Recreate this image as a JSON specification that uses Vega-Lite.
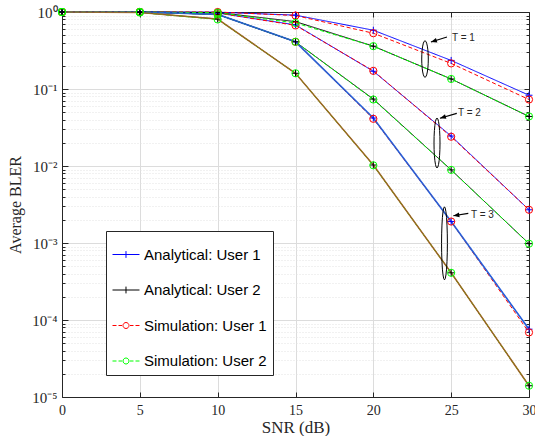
{
  "$schema": "https://vega.github.io/schema/vega-lite/v6.json",
  "width": 467,
  "height": 385,
  "autosize": "none",
  "padding": {"left": 62, "top": 12, "right": 6, "bottom": 39},
  "background": "white",
  "config": {"view": {"stroke": null}},
  "datasets": {
    "curves": [
      {"series": "Analytical: User 1", "T": 1, "x": 0, "v": 1}, {"series": "Analytical: User 1", "T": 1, "x": 5, "v": 1}, {"series": "Analytical: User 1", "T": 1, "x": 10, "v": 0.995}, {"series": "Analytical: User 1", "T": 1, "x": 15, "v": 0.91}, {"series": "Analytical: User 1", "T": 1, "x": 20, "v": 0.58}, {"series": "Analytical: User 1", "T": 1, "x": 25, "v": 0.235}, {"series": "Analytical: User 1", "T": 1, "x": 30, "v": 0.083},
      {"series": "Analytical: User 1", "T": 2, "x": 0, "v": 1}, {"series": "Analytical: User 1", "T": 2, "x": 5, "v": 1}, {"series": "Analytical: User 1", "T": 2, "x": 10, "v": 0.97}, {"series": "Analytical: User 1", "T": 2, "x": 15, "v": 0.68}, {"series": "Analytical: User 1", "T": 2, "x": 20, "v": 0.17}, {"series": "Analytical: User 1", "T": 2, "x": 25, "v": 0.0245}, {"series": "Analytical: User 1", "T": 2, "x": 30, "v": 0.0027},
      {"series": "Analytical: User 1", "T": 3, "x": 0, "v": 1}, {"series": "Analytical: User 1", "T": 3, "x": 5, "v": 1}, {"series": "Analytical: User 1", "T": 3, "x": 10, "v": 0.93}, {"series": "Analytical: User 1", "T": 3, "x": 15, "v": 0.41}, {"series": "Analytical: User 1", "T": 3, "x": 20, "v": 0.042}, {"series": "Analytical: User 1", "T": 3, "x": 25, "v": 0.0019}, {"series": "Analytical: User 1", "T": 3, "x": 30, "v": 0.000076},
      {"series": "Analytical: User 2", "T": 1, "x": 0, "v": 1}, {"series": "Analytical: User 2", "T": 1, "x": 5, "v": 1}, {"series": "Analytical: User 2", "T": 1, "x": 10, "v": 0.985}, {"series": "Analytical: User 2", "T": 1, "x": 15, "v": 0.75}, {"series": "Analytical: User 2", "T": 1, "x": 20, "v": 0.36}, {"series": "Analytical: User 2", "T": 1, "x": 25, "v": 0.135}, {"series": "Analytical: User 2", "T": 1, "x": 30, "v": 0.044},
      {"series": "Analytical: User 2", "T": 2, "x": 0, "v": 1}, {"series": "Analytical: User 2", "T": 2, "x": 5, "v": 1}, {"series": "Analytical: User 2", "T": 2, "x": 10, "v": 0.93}, {"series": "Analytical: User 2", "T": 2, "x": 15, "v": 0.41}, {"series": "Analytical: User 2", "T": 2, "x": 20, "v": 0.074}, {"series": "Analytical: User 2", "T": 2, "x": 25, "v": 0.0089}, {"series": "Analytical: User 2", "T": 2, "x": 30, "v": 0.00098},
      {"series": "Analytical: User 2", "T": 3, "x": 0, "v": 1}, {"series": "Analytical: User 2", "T": 3, "x": 5, "v": 0.985}, {"series": "Analytical: User 2", "T": 3, "x": 10, "v": 0.81}, {"series": "Analytical: User 2", "T": 3, "x": 15, "v": 0.16}, {"series": "Analytical: User 2", "T": 3, "x": 20, "v": 0.0103}, {"series": "Analytical: User 2", "T": 3, "x": 25, "v": 0.00041}, {"series": "Analytical: User 2", "T": 3, "x": 30, "v": 0.000014},
      {"series": "Simulation: User 1", "T": 1, "x": 0, "v": 1}, {"series": "Simulation: User 1", "T": 1, "x": 5, "v": 1}, {"series": "Simulation: User 1", "T": 1, "x": 10, "v": 1}, {"series": "Simulation: User 1", "T": 1, "x": 15, "v": 0.9}, {"series": "Simulation: User 1", "T": 1, "x": 20, "v": 0.53}, {"series": "Simulation: User 1", "T": 1, "x": 25, "v": 0.215}, {"series": "Simulation: User 1", "T": 1, "x": 30, "v": 0.073},
      {"series": "Simulation: User 1", "T": 2, "x": 0, "v": 1}, {"series": "Simulation: User 1", "T": 2, "x": 5, "v": 1}, {"series": "Simulation: User 1", "T": 2, "x": 10, "v": 0.97}, {"series": "Simulation: User 1", "T": 2, "x": 15, "v": 0.67}, {"series": "Simulation: User 1", "T": 2, "x": 20, "v": 0.172}, {"series": "Simulation: User 1", "T": 2, "x": 25, "v": 0.024}, {"series": "Simulation: User 1", "T": 2, "x": 30, "v": 0.0027},
      {"series": "Simulation: User 1", "T": 3, "x": 0, "v": 1}, {"series": "Simulation: User 1", "T": 3, "x": 5, "v": 1}, {"series": "Simulation: User 1", "T": 3, "x": 10, "v": 0.93}, {"series": "Simulation: User 1", "T": 3, "x": 15, "v": 0.41}, {"series": "Simulation: User 1", "T": 3, "x": 20, "v": 0.041}, {"series": "Simulation: User 1", "T": 3, "x": 25, "v": 0.0019}, {"series": "Simulation: User 1", "T": 3, "x": 30, "v": 0.000069},
      {"series": "Simulation: User 2", "T": 1, "x": 0, "v": 1}, {"series": "Simulation: User 2", "T": 1, "x": 5, "v": 1}, {"series": "Simulation: User 2", "T": 1, "x": 10, "v": 0.98}, {"series": "Simulation: User 2", "T": 1, "x": 15, "v": 0.72}, {"series": "Simulation: User 2", "T": 1, "x": 20, "v": 0.36}, {"series": "Simulation: User 2", "T": 1, "x": 25, "v": 0.135}, {"series": "Simulation: User 2", "T": 1, "x": 30, "v": 0.044},
      {"series": "Simulation: User 2", "T": 2, "x": 0, "v": 1}, {"series": "Simulation: User 2", "T": 2, "x": 5, "v": 1}, {"series": "Simulation: User 2", "T": 2, "x": 10, "v": 0.93}, {"series": "Simulation: User 2", "T": 2, "x": 15, "v": 0.41}, {"series": "Simulation: User 2", "T": 2, "x": 20, "v": 0.073}, {"series": "Simulation: User 2", "T": 2, "x": 25, "v": 0.0089}, {"series": "Simulation: User 2", "T": 2, "x": 30, "v": 0.00098},
      {"series": "Simulation: User 2", "T": 3, "x": 0, "v": 1}, {"series": "Simulation: User 2", "T": 3, "x": 5, "v": 0.985}, {"series": "Simulation: User 2", "T": 3, "x": 10, "v": 0.8}, {"series": "Simulation: User 2", "T": 3, "x": 15, "v": 0.16}, {"series": "Simulation: User 2", "T": 3, "x": 20, "v": 0.0102}, {"series": "Simulation: User 2", "T": 3, "x": 25, "v": 0.00041}, {"series": "Simulation: User 2", "T": 3, "x": 30, "v": 0.000014}
    ],
    "ellipses": [
      {"T": 1, "x": 23.32, "v": 0.245},
      {"T": 2, "x": 24.09, "v": 0.0199},
      {"T": 3, "x": 24.57, "v": 0.00099}
    ],
    "arrows": [
      {"T": 1, "x": 24.73, "v": 0.473, "x2": 23.7, "v2": 0.408},
      {"T": 2, "x": 25.36, "v": 0.0483, "x2": 24.28, "v2": 0.0417},
      {"T": 3, "x": 26.1, "v": 0.00243, "x2": 25.14, "v2": 0.00226}
    ],
    "labels": [
      {"x": 25.05, "v": 0.453, "text": "T = 1"},
      {"x": 25.44, "v": 0.0488, "text": "T = 2"},
      {"x": 26.27, "v": 0.00231, "text": "T = 3"}
    ]
  },
  "layer": [
    {
      "data": {"name": "curves"},
      "mark": {"type": "line", "strokeWidth": 1},
      "encoding": {
        "x": {
          "field": "x", "type": "quantitative",
          "scale": {"domain": [0, 30], "nice": false},
          "axis": {
            "orient": "bottom", "values": [0, 5, 10, 15, 20, 25, 30],
            "grid": true, "gridColor": "#dcdcdc", "gridWidth": 1,
            "ticks": true, "tickSize": -5, "tickColor": "#262626", "tickWidth": 1,
            "domain": true, "domainColor": "#262626", "domainWidth": 1,
            "labelFont": "Liberation Serif", "labelFontSize": 14, "labelColor": "#262626",
            "labelPadding": 11, "labelFlush": false,
            "title": "SNR (dB)", "titleFont": "Liberation Serif", "titleFontSize": 17,
            "titleFontWeight": "normal", "titleColor": "#262626", "titlePadding": 2
          }
        },
        "y": {
          "field": "v", "type": "quantitative",
          "scale": {"type": "log", "domain": [0.00001, 1], "nice": false},
          "axis": {
            "orient": "left",
            "values": [0.00001, 0.00002, 0.00003, 0.00004, 0.00005, 0.00006, 0.00007, 0.00008, 0.00009, 0.0001, 0.0002, 0.0003, 0.0004, 0.0005, 0.0006, 0.0007, 0.0008, 0.0009, 0.001, 0.002, 0.003, 0.004, 0.005, 0.006, 0.007, 0.008, 0.009, 0.01, 0.02, 0.03, 0.04, 0.05, 0.06, 0.07, 0.08, 0.09, 0.1, 0.2, 0.3, 0.4, 0.5, 0.6, 0.7, 0.8, 0.9, 1],
            "labelExpr": "datum.value == 1 ? '10⁰' : datum.value == 0.1 ? '10⁻¹' : datum.value == 0.01 ? '10⁻²' : datum.value == 0.001 ? '10⁻³' : datum.value == 0.0001 ? '10⁻⁴' : datum.value == 0.00001 ? '10⁻⁵' : ''",
            "grid": true,
            "gridColor": {"condition": {"test": "indexof([1,0.1,0.01,0.001,0.0001,0.00001], datum.value) >= 0", "value": "#dcdcdc"}, "value": "#e2e2e2"},
            "gridDash": {"condition": {"test": "indexof([1,0.1,0.01,0.001,0.0001,0.00001], datum.value) >= 0", "value": []}, "value": [1, 2]},
            "ticks": true,
            "tickSize": {"condition": {"test": "indexof([1,0.1,0.01,0.001,0.0001,0.00001], datum.value) >= 0", "value": -6}, "value": -3},
            "tickColor": "#262626", "tickWidth": 1,
            "domain": true, "domainColor": "#262626", "domainWidth": 1,
            "labelFont": "Liberation Serif", "labelFontSize": 15, "labelColor": "#262626",
            "labelPadding": 11, "labelFlush": false, "labelOverlap": false,
            "title": "Average BLER", "titleFont": "Liberation Serif", "titleFontSize": 16,
            "titleFontWeight": "normal", "titleColor": "#262626", "titlePadding": 8
          }
        },
        "color": {
          "field": "series", "type": "nominal",
          "scale": {"domain": ["Analytical: User 1", "Analytical: User 2", "Simulation: User 1", "Simulation: User 2"], "range": ["#0000ff", "#000000", "#ff0000", "#00ff00"]},
          "legend": null
        },
        "strokeDash": {
          "field": "series", "type": "nominal",
          "scale": {"domain": ["Analytical: User 1", "Analytical: User 2", "Simulation: User 1", "Simulation: User 2"], "range": [[1, 0], [1, 0], [4, 2.5], [4, 2.5]]},
          "legend": null
        },
        "detail": {"field": "T", "type": "nominal"}
      }
    },
    {
      "data": {"name": "curves"},
      "transform": [{"filter": "datum.T == 3 && datum.series == 'Analytical: User 1'"}],
      "mark": {"type": "line", "strokeWidth": 1.7, "color": "#2462d6", "opacity": 0.9},
      "encoding": {
        "x": {"field": "x", "type": "quantitative", "scale": {"domain": [0, 30], "nice": false}, "axis": null},
        "y": {"field": "v", "type": "quantitative", "scale": {"type": "log", "domain": [0.00001, 1], "nice": false}, "axis": null}
      }
    },
    {
      "data": {"name": "curves"},
      "transform": [{"filter": "datum.T == 3 && datum.series == 'Analytical: User 2'"}],
      "mark": {"type": "line", "strokeWidth": 1.6, "color": "#a8651f", "opacity": 0.85},
      "encoding": {
        "x": {"field": "x", "type": "quantitative", "scale": {"domain": [0, 30], "nice": false}, "axis": null},
        "y": {"field": "v", "type": "quantitative", "scale": {"type": "log", "domain": [0.00001, 1], "nice": false}, "axis": null}
      }
    },
    {
      "data": {"name": "curves"},
      "transform": [{"filter": "indexof(datum.series, 'Analytical') == 0"}],
      "mark": {"type": "point", "shape": "M-1,0L1,0M0,-1L0,1", "size": 49, "filled": false, "strokeWidth": 1, "opacity": 1},
      "encoding": {
        "x": {
          "field": "x", "type": "quantitative",
          "scale": {"domain": [0, 30], "nice": false},
          "axis": {
            "orient": "top", "values": [0, 5, 10, 15, 20, 25, 30],
            "labels": false, "grid": false, "ticks": true, "tickSize": -5,
            "tickColor": "#262626", "domain": true, "domainColor": "#262626", "title": null
          }
        },
        "y": {
          "field": "v", "type": "quantitative",
          "scale": {"type": "log", "domain": [0.00001, 1], "nice": false},
          "axis": {
            "orient": "right",
            "values": [0.00001, 0.00002, 0.00003, 0.00004, 0.00005, 0.00006, 0.00007, 0.00008, 0.00009, 0.0001, 0.0002, 0.0003, 0.0004, 0.0005, 0.0006, 0.0007, 0.0008, 0.0009, 0.001, 0.002, 0.003, 0.004, 0.005, 0.006, 0.007, 0.008, 0.009, 0.01, 0.02, 0.03, 0.04, 0.05, 0.06, 0.07, 0.08, 0.09, 0.1, 0.2, 0.3, 0.4, 0.5, 0.6, 0.7, 0.8, 0.9, 1],
            "labels": false, "grid": false, "ticks": true,
            "tickSize": {"condition": {"test": "indexof([1,0.1,0.01,0.001,0.0001,0.00001], datum.value) >= 0", "value": -5}, "value": -3},
            "tickColor": "#262626", "domain": true, "domainColor": "#262626", "title": null
          }
        },
        "color": {
          "field": "series", "type": "nominal",
          "scale": {"domain": ["Analytical: User 1", "Analytical: User 2", "Simulation: User 1", "Simulation: User 2"], "range": ["#0000ff", "#000000", "#ff0000", "#00ff00"]},
          "legend": null
        }
      }
    },
    {
      "data": {"name": "curves"},
      "transform": [{"filter": "indexof(datum.series, 'Simulation') == 0"}],
      "mark": {"type": "point", "shape": "circle", "size": 52, "filled": false, "strokeWidth": 1, "opacity": 1},
      "encoding": {
        "x": {"field": "x", "type": "quantitative", "scale": {"domain": [0, 30], "nice": false}, "axis": null},
        "y": {"field": "v", "type": "quantitative", "scale": {"type": "log", "domain": [0.00001, 1], "nice": false}, "axis": null},
        "color": {
          "field": "series", "type": "nominal",
          "scale": {"domain": ["Analytical: User 1", "Analytical: User 2", "Simulation: User 1", "Simulation: User 2"], "range": ["#0000ff", "#000000", "#ff0000", "#00ff00"]},
          "legend": null
        }
      }
    },
    {
      "data": {"name": "ellipses"},
      "transform": [{"filter": "datum.T == 1"}],
      "mark": {"type": "point", "filled": false, "stroke": "#000000", "strokeWidth": 1, "opacity": 1, "size": 1340,
        "shape": "M0,-1L0.047,-0.966L0.09,-0.866L0.127,-0.707L0.156,-0.5L0.174,-0.259L0.18,0L0.174,0.259L0.156,0.5L0.127,0.707L0.09,0.866L0.047,0.966L0,1L-0.047,0.966L-0.09,0.866L-0.127,0.707L-0.156,0.5L-0.174,0.259L-0.18,0L-0.174,-0.259L-0.156,-0.5L-0.127,-0.707L-0.09,-0.866L-0.047,-0.966Z"},
      "encoding": {
        "x": {"field": "x", "type": "quantitative", "scale": {"domain": [0, 30], "nice": false}, "axis": null},
        "y": {"field": "v", "type": "quantitative", "scale": {"type": "log", "domain": [0.00001, 1], "nice": false}, "axis": null}
      }
    },
    {
      "data": {"name": "ellipses"},
      "transform": [{"filter": "datum.T == 2"}],
      "mark": {"type": "point", "filled": false, "stroke": "#000000", "strokeWidth": 1, "opacity": 1, "size": 2500,
        "shape": "M0,-1L0.031,-0.966L0.06,-0.866L0.085,-0.707L0.104,-0.5L0.116,-0.259L0.12,0L0.116,0.259L0.104,0.5L0.085,0.707L0.06,0.866L0.031,0.966L0,1L-0.031,0.966L-0.06,0.866L-0.085,0.707L-0.104,0.5L-0.116,0.259L-0.12,0L-0.116,-0.259L-0.104,-0.5L-0.085,-0.707L-0.06,-0.866L-0.031,-0.966Z"},
      "encoding": {
        "x": {"field": "x", "type": "quantitative", "scale": {"domain": [0, 30], "nice": false}, "axis": null},
        "y": {"field": "v", "type": "quantitative", "scale": {"type": "log", "domain": [0.00001, 1], "nice": false}, "axis": null}
      }
    },
    {
      "data": {"name": "ellipses"},
      "transform": [{"filter": "datum.T == 3"}],
      "mark": {"type": "point", "filled": false, "stroke": "#000000", "strokeWidth": 1, "opacity": 1, "size": 5329,
        "shape": "M0,-1L0.021,-0.966L0.04,-0.866L0.057,-0.707L0.069,-0.5L0.077,-0.259L0.08,0L0.077,0.259L0.069,0.5L0.057,0.707L0.04,0.866L0.021,0.966L0,1L-0.021,0.966L-0.04,0.866L-0.057,0.707L-0.069,0.5L-0.077,0.259L-0.08,0L-0.077,-0.259L-0.069,-0.5L-0.057,-0.707L-0.04,-0.866L-0.021,-0.966Z"},
      "encoding": {
        "x": {"field": "x", "type": "quantitative", "scale": {"domain": [0, 30], "nice": false}, "axis": null},
        "y": {"field": "v", "type": "quantitative", "scale": {"type": "log", "domain": [0.00001, 1], "nice": false}, "axis": null}
      }
    },
    {
      "data": {"name": "arrows"},
      "mark": {"type": "rule", "stroke": "#000000", "strokeWidth": 1.2},
      "encoding": {
        "x": {"field": "x", "type": "quantitative", "scale": {"domain": [0, 30], "nice": false}, "axis": null},
        "y": {"field": "v", "type": "quantitative", "scale": {"type": "log", "domain": [0.00001, 1], "nice": false}, "axis": null},
        "x2": {"field": "x2"},
        "y2": {"field": "v2"}
      }
    },
    {
      "data": {"name": "arrows"},
      "transform": [{"filter": "datum.T < 3"}],
      "mark": {"type": "point", "shape": "M0,0L2,-0.8L2,0.8Z", "size": 36, "filled": true, "fill": "#000000", "strokeWidth": 0, "opacity": 1, "angle": 343},
      "encoding": {
        "x": {"field": "x2", "type": "quantitative", "scale": {"domain": [0, 30], "nice": false}, "axis": null},
        "y": {"field": "v2", "type": "quantitative", "scale": {"type": "log", "domain": [0.00001, 1], "nice": false}, "axis": null}
      }
    },
    {
      "data": {"name": "arrows"},
      "transform": [{"filter": "datum.T == 3"}],
      "mark": {"type": "point", "shape": "M0,0L2,-0.8L2,0.8Z", "size": 36, "filled": true, "fill": "#000000", "strokeWidth": 0, "opacity": 1, "angle": 351},
      "encoding": {
        "x": {"field": "x2", "type": "quantitative", "scale": {"domain": [0, 30], "nice": false}, "axis": null},
        "y": {"field": "v2", "type": "quantitative", "scale": {"type": "log", "domain": [0.00001, 1], "nice": false}, "axis": null}
      }
    },
    {
      "data": {"name": "labels"},
      "mark": {"type": "text", "align": "left", "baseline": "middle", "font": "Liberation Sans", "fontSize": 10, "color": "#262626"},
      "encoding": {
        "x": {"field": "x", "type": "quantitative", "scale": {"domain": [0, 30], "nice": false}, "axis": null},
        "y": {"field": "v", "type": "quantitative", "scale": {"type": "log", "domain": [0.00001, 1], "nice": false}, "axis": null},
        "text": {"field": "text"}
      }
    },
    {
      "data": {"name": "curves"},
      "transform": [{"filter": "datum.x < -100"}],
      "mark": {"type": "point", "filled": false, "strokeWidth": 1, "size": 1156, "opacity": 1},
      "encoding": {
        "x": {"field": "x", "type": "quantitative", "scale": {"domain": [0, 30], "nice": false}, "axis": null},
        "y": {"field": "v", "type": "quantitative", "scale": {"type": "log", "domain": [0.00001, 1], "nice": false}, "axis": null},
        "color": {
          "field": "series", "type": "nominal",
          "scale": {"domain": ["Analytical: User 1", "Analytical: User 2", "Simulation: User 1", "Simulation: User 2"], "range": ["#0000ff", "#000000", "#ff0000", "#00ff00"]},
          "legend": {"orient": "none", "legendX": 44, "legendY": 219, "title": null, "strokeColor": "#262626", "fillColor": "#ffffff", "padding": 6, "rowPadding": 9.5, "labelFont": "Liberation Sans", "labelFontSize": 15, "labelColor": "#000000", "labelOffset": -3, "symbolSize": 1156, "symbolStrokeWidth": 1, "symbolFillColor": "transparent", "labelLimit": 300, "labelExpr": "datum.label + '   '"}
        },
        "shape": {
          "field": "series", "type": "nominal",
          "scale": {"domain": ["Analytical: User 1", "Analytical: User 2", "Simulation: User 1", "Simulation: User 2"],
            "range": [
              "M-1,0L0.588,0M-0.206,-0.2L-0.206,0.2",
              "M-1,0L0.588,0M-0.206,-0.2L-0.206,0.2",
              "M-1,0L-0.765,0M-0.647,0L-0.441,0M0.029,0L0.235,0M0.353,0L0.588,0M-0.03,0L-0.043,0.067L-0.082,0.124L-0.139,0.163L-0.206,0.176L-0.273,0.163L-0.33,0.124L-0.369,0.067L-0.382,0L-0.369,-0.067L-0.33,-0.124L-0.273,-0.163L-0.206,-0.176L-0.139,-0.163L-0.082,-0.124L-0.043,-0.067Z",
              "M-1,0L-0.765,0M-0.647,0L-0.441,0M0.029,0L0.235,0M0.353,0L0.588,0M-0.03,0L-0.043,0.067L-0.082,0.124L-0.139,0.163L-0.206,0.176L-0.273,0.163L-0.33,0.124L-0.369,0.067L-0.382,0L-0.369,-0.067L-0.33,-0.124L-0.273,-0.163L-0.206,-0.176L-0.139,-0.163L-0.082,-0.124L-0.043,-0.067Z"
            ]},
          "legend": {"orient": "none", "legendX": 44, "legendY": 219, "title": null, "strokeColor": "#262626", "fillColor": "#ffffff", "padding": 6, "rowPadding": 9.5, "labelFont": "Liberation Sans", "labelFontSize": 15, "labelColor": "#000000", "labelOffset": -3, "symbolSize": 1156, "symbolStrokeWidth": 1, "symbolFillColor": "transparent", "labelLimit": 300, "labelExpr": "datum.label + '   '"}
        }
      }
    }
  ],
  "resolve": {
    "scale": {"color": "independent", "shape": "independent", "strokeDash": "independent"},
    "axis": {"x": "independent", "y": "independent"}
  }
}
